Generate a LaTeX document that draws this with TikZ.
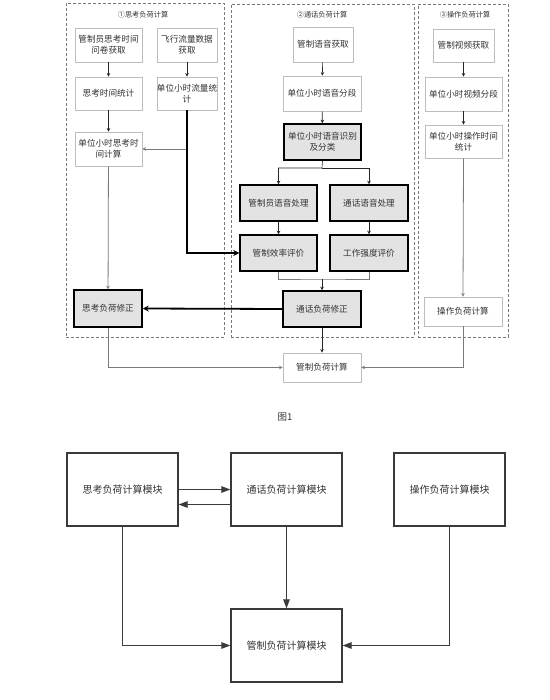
\documentclass[tikz,border=0pt]{standalone}
\usepackage{fontspec}
\newfontfamily\cjk{Noto Sans CJK SC}
\usetikzlibrary{arrows.meta}
\definecolor{txt}{HTML}{333333}
\definecolor{lightline}{HTML}{BDBDBD}
\definecolor{midline}{HTML}{7A7A7A}
\definecolor{boxfill}{HTML}{E3E3E3}
\definecolor{bline}{HTML}{3A3A3A}
\begin{document}
\begin{tikzpicture}[x=1pt,y=-1pt,
  every node/.style={font=\cjk\fontsize{8.6}{11}\selectfont, text=txt, align=center, inner sep=0pt},
  panel/.style={draw=midline, dash pattern=on 3pt off 2pt, line width=0.7pt},
  ptitle/.style={font=\cjk\fontsize{7.2}{9}\selectfont},
  lbox/.style={draw=lightline, line width=0.8pt, fill=white},
  gbox/.style={draw=black, line width=1.5pt, fill=boxfill},
  arr/.style={draw=black!85, line width=0.6pt, -{Stealth[length=3.5pt,width=3.5pt]}},
  gline/.style={draw=midline, line width=0.8pt},
  garr/.style={gline, -{Stealth[length=3.5pt,width=3.5pt]}},
  tarr/.style={draw=black, line width=1.8pt, -{Stealth[length=6pt,width=6pt]}},
  mbox/.style={draw=bline, line width=1.3pt, minimum width=111pt, minimum height=73pt, font=\cjk\fontsize{10}{12}\selectfont},
  marr/.style={draw=bline, line width=1.2pt, -{Triangle[length=9pt,width=6.5pt]}},
  mline/.style={draw=bline, line width=1.2pt}
]
\useasboundingbox (0,0) rectangle (549,700);

% panels
\node[panel, minimum width=158pt, minimum height=334pt] (p1) at (145,170) {};
\node[panel, minimum width=183pt, minimum height=333pt] (p2) at (322.5,170.5) {};
\node[panel, minimum width=90pt, minimum height=333pt] (p3) at (463,170.5) {};
\node[ptitle] (t1) at (143,15) {①思考负荷计算};
\node[ptitle] (t2) at (322,15) {②通话负荷计算};
\node[ptitle] (t3) at (465,15) {③操作负荷计算};

% left panel
\node[lbox, minimum width=67pt, minimum height=34pt] (q1) at (108.5,45) {管制员思考时间\\问卷获取};
\node[lbox, minimum width=60pt, minimum height=34pt] (q2) at (187,45) {飞行流量数据\\获取};
\node[lbox, minimum width=67pt, minimum height=33pt] (q3) at (108.5,93.5) {思考时间统计};
\node[lbox, minimum width=60pt, minimum height=33pt] (q4) at (187,93.5) {单位小时流量统\\计};
\node[lbox, minimum width=67pt, minimum height=34pt] (q5) at (108.5,149) {单位小时思考时\\间计算};
\node[gbox, minimum width=68pt, minimum height=37pt] (q6) at (108,308.5) {思考负荷修正};

% middle panel
\node[lbox, minimum width=60pt, minimum height=35pt] (m1) at (323,44.5) {管制语音获取};
\node[lbox, minimum width=78pt, minimum height=35pt] (m2) at (322,93.5) {单位小时语音分段};
\node[gbox, minimum width=77pt, minimum height=36pt] (m3) at (322.5,142) {单位小时语音识别\\及分类};
\node[gbox, minimum width=77pt, minimum height=36pt] (m4) at (278.5,203) {管制员语音处理};
\node[gbox, minimum width=78pt, minimum height=36pt] (m5) at (369,203) {通话语音处理};
\node[gbox, minimum width=77pt, minimum height=36pt] (m6) at (278.5,253) {管制效率评价};
\node[gbox, minimum width=78pt, minimum height=36pt] (m7) at (369,253) {工作强度评价};
\node[gbox, minimum width=78pt, minimum height=36pt] (m8) at (322,309) {通话负荷修正};
\node[lbox, minimum width=78pt, minimum height=29pt] (m9) at (322,367.5) {管制负荷计算};

% right panel
\node[lbox, minimum width=61pt, minimum height=33pt] (r1) at (463.5,45.5) {管制视频获取};
\node[lbox, minimum width=77pt, minimum height=34pt] (r2) at (463.5,94) {单位小时视频分段};
\node[lbox, minimum width=77pt, minimum height=33pt] (r3) at (463.5,141.5) {单位小时操作时间\\统计};
\node[lbox, minimum width=78pt, minimum height=29pt] (r4) at (463,311.5) {操作负荷计算};

% coordinates for splits
\coordinate (split) at (322,168);
\coordinate (merge) at (322,279);

% left connectors
\draw[arr] (q1) -- (q3);
\draw[arr] (q2) -- (q4);
\draw[arr] (q3) -- (q5);
\draw[garr] (q4.south |- q5.east) -- (q5.east);
\draw[tarr] (q4.south) |- (m6.west);
\draw[garr] (q5) -- (q6);
\draw[tarr] (m8.west) -- (q6.east);
\draw[garr] (q6.south) |- (m9.west);

% middle connectors
\draw[arr] (m1) -- (m2);
\draw[arr] (m2) -- (m3);
\draw[arr] (m3.south) -- (split) -| (m4.north);
\draw[arr] (split) -| (m5.north);
\draw[arr] (m4) -- (m6);
\draw[arr] (m5) -- (m7);
\draw[gline] (m6.south) |- (merge) -| (m7.south);
\draw[arr] (merge) -- (m8.north);
\draw[arr] (m8) -- (m9);

% right connectors
\draw[arr] (r1) -- (r2);
\draw[arr] (r2) -- (r3);
\draw[garr] (r3.south) -- (r4.north);
\draw[garr] (r4.south) |- (m9.east);

% caption
\node[font=\cjk\fontsize{9.5}{11}\selectfont] (cap) at (285,417) {图1};

% bottom diagram
\node[mbox] (b1) at (122.5,489.5) {思考负荷计算模块};
\node[mbox] (b2) at (286.5,489.5) {通话负荷计算模块};
\node[mbox] (b3) at (449.5,489.5) {操作负荷计算模块};
\node[mbox] (b4) at (286.5,645.5) {管制负荷计算模块};
\draw[marr] (b1.east) -- (b2.west);
\draw[marr] ([yshift=-15pt]b2.west) -- ([yshift=-15pt]b1.east);
\draw[marr] (b1.south) |- (b4.west);
\draw[marr] (b2.south) -- (b4.north);
\draw[marr] (b3.south) |- (b4.east);
\end{tikzpicture}
\end{document}
